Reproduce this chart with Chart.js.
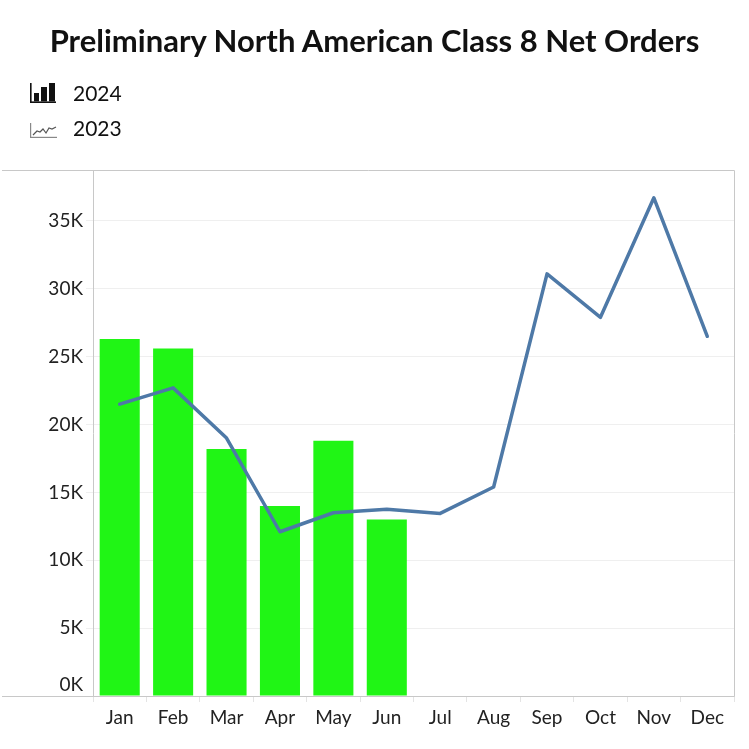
<!DOCTYPE html>
<html>
<head>
<meta charset="utf-8">
<script src="https://cdn.jsdelivr.net/npm/chart.js@4.4.1/dist/chart.umd.min.js"></script>
<style>
  html, body { margin: 0; padding: 0; background: #fff; }
  #wrap { position: relative; width: 749px; height: 749px; overflow: hidden; font-family: Lato, "Noto Sans", sans-serif; }
  #c { position: absolute; left: 0; top: 0; }
  #title { position: absolute; left: 0; top: 21px; width: 749px; text-align: center; font-size: 31px; font-weight: 700; color: #111; line-height: 38px; }
  .leg { position: absolute; left: 30px; height: 24px; display: flex; align-items: center; font-size: 21px; color: #111; }
  .leg span { margin-left: 16px; }
</style>
</head>
<body>
<div id="wrap">
  <canvas id="c" width="749" height="749"></canvas>
  <div id="title">Preliminary North American Class 8 Net Orders</div>
  <div class="leg" style="top:80px;">
    <svg width="27" height="22" viewBox="0 0 27 22">
      <rect x="0" y="2" width="1.6" height="20" fill="#111"/>
      <rect x="0" y="20.4" width="26" height="1.6" fill="#111"/>
      <rect x="4" y="12" width="5" height="8.4" fill="#111"/>
      <rect x="11" y="6" width="6" height="14.4" fill="#111"/>
      <rect x="19" y="2" width="6" height="18.4" fill="#111"/>
    </svg>
    <span>2024</span>
  </div>
  <div class="leg" style="top:115px;">
    <svg width="27" height="22" viewBox="0 0 27 22">
      <rect x="0" y="7" width="1.2" height="15" fill="#888"/>
      <rect x="0" y="20.8" width="27" height="1.2" fill="#888"/>
      <polyline points="3,19 7,15 10,16 13,13 16,17 19,12 22,13 26,11" fill="none" stroke="#555" stroke-width="1.2"/>
    </svg>
    <span>2023</span>
  </div>
</div>
<script>
const categories = ["Jan","Feb","Mar","Apr","May","Jun","Jul","Aug","Sep","Oct","Nov","Dec"];
const orders2024 = [26300, 25600, 18200, 14000, 18800, 13000, null, null, null, null, null, null];
const orders2023 = [21500, 22700, 19000, 12100, 13500, 13750, 13450, 15400, 31100, 27900, 36700, 26500];
const yTickValues = [0, 5000, 10000, 15000, 20000, 25000, 30000, 35000];
const yTickLabels = ["0K", "5K", "10K", "15K", "20K", "25K", "30K", "35K"];
const yMax = 38750;
const tickFont = { family: 'Lato, "Noto Sans", sans-serif', size: 19 };

const frame = {
  id: 'frame',
  afterDraw(chart) {
    const ctx = chart.ctx, a = chart.chartArea;
    ctx.save();
    ctx.strokeStyle = '#c8c8c8';
    ctx.lineWidth = 1;
    ctx.beginPath();
    ctx.moveTo(2, a.top + 0.5); ctx.lineTo(a.right + 0.5, a.top + 0.5);
    ctx.lineTo(a.right + 0.5, a.bottom + 0.5);
    ctx.moveTo(2, a.bottom + 0.5); ctx.lineTo(a.right + 0.5, a.bottom + 0.5);
    ctx.stroke();
    // zero label sits just above the baseline, as in the source chart
    const ys = chart.scales.y;
    ctx.fillStyle = '#222';
    ctx.font = tickFont.size + 'px ' + tickFont.family;
    ctx.textAlign = 'right';
    ctx.textBaseline = 'bottom';
    ctx.fillText(yTickLabels[0], ys.right - 10, ys.getPixelForValue(0) - 2);
    ctx.restore();
  }
};

new Chart(document.getElementById('c'), {
  data: {
    labels: categories,
    datasets: [
      {
        type: 'line', label: '2023', data: orders2023,
        borderColor: '#4e79a7', borderWidth: 3.5, pointRadius: 0, tension: 0,
        borderCapStyle: 'round', borderJoinStyle: 'round', order: 0
      },
      {
        type: 'bar', label: '2024', data: orders2024,
        backgroundColor: '#20f515', barPercentage: 0.75, categoryPercentage: 1.0, order: 1
      }
    ]
  },
  options: {
    responsive: false,
    animation: false,
    devicePixelRatio: 1,
    layout: { padding: { top: 170, right: 15, left: 0, bottom: 0 } },
    plugins: { legend: { display: false }, title: { display: false }, tooltip: { enabled: false } },
    scales: {
      x: {
        offset: true,
        grid: { display: true, drawOnChartArea: false, drawTicks: true, tickLength: 6, color: '#e4e4e4', offset: true },
        border: { display: false },
        ticks: { color: '#222', font: tickFont, padding: 4, maxRotation: 0 },
        afterFit(s) { s.height = 53; }
      },
      y: {
        type: 'linear',
        min: 0, max: yMax,
        grid: { color: '#efefef', drawTicks: true, tickLength: 7 },
        border: { display: true, color: '#c8c8c8' },
        ticks: {
          color: '#222', padding: 3, autoSkip: false,
          font: tickFont,
          callback: (v) => { const i = yTickValues.indexOf(v); return i > 0 ? yTickLabels[i] : ''; }
        },
        afterBuildTicks(s) { s.ticks = yTickValues.map(v => ({ value: v })); },
        afterFit(s) { s.width = 93; }
      }
    }
  },
  plugins: [frame]
});
</script>
</body>
</html>
